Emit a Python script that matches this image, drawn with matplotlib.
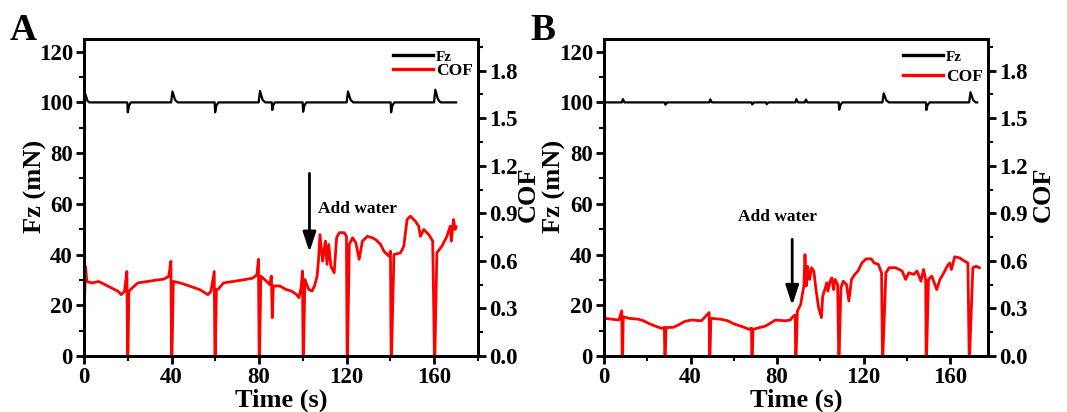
import matplotlib
matplotlib.use('Agg')
import matplotlib.pyplot as plt
from matplotlib.ticker import MultipleLocator

# ---- data (time s, value) ----
# panel A, normal force Fz (mN)
fz_a = [(0, 102.5), (0.4, 103.8), (1.6, 100.6), (2.5, 100), (19.8, 100), (20.0, 96.1),
        (20.6, 98.8), (21.5, 100), (39.8, 100), (40.4, 104.3), (41.6, 101), (42.8, 100),
        (59.7, 100), (59.9, 96.1), (60.5, 98.8), (61.4, 100), (79.8, 100), (80.4, 104.5),
        (81.6, 101), (82.8, 100), (85.8, 100), (86.0, 97), (86.5, 99), (87.2, 100),
        (99.9, 100), (100.1, 96.3), (100.7, 98.8), (101.6, 100), (120.0, 100), (120.6, 104.3),
        (121.8, 101), (123.0, 100), (140.1, 100), (140.3, 96.1), (140.9, 98.8), (141.8, 100),
        (159.9, 100), (160.5, 105), (161.7, 101.2), (162.9, 100), (170, 100)]

# panel A, friction coefficient
cof_a = [(0, 0.230), (0.7, 0.565), (1.3, 0.470), (3.7, 0.461), (6.7, 0.470), (9.6, 0.450),
         (12.6, 0.429), (15.6, 0.408), (17.0, 0.387), (18.5, 0.408), (19.6, 0.533), (19.9, 0),
         (20.1, 0), (20.5, 0.408), (22.0, 0.429), (24.6, 0.461), (29.0, 0.470), (33.5, 0.480),
         (36.4, 0.485), (38.7, 0.502), (39.7, 0.597), (40.0, 0), (40.2, 0), (40.8, 0.470),
         (44.0, 0.461), (48.5, 0.440), (53.0, 0.418), (56.6, 0.387), (58.0, 0.408), (59.5, 0.533),
         (59.8, 0), (60.0, 0), (60.5, 0.418), (61.5, 0.424), (63.7, 0.461), (68.0, 0.470),
         (72.6, 0.480), (77.0, 0.491), (79.0, 0.512), (79.7, 0.610), (80.0, 0), (80.2, 0),
         (80.8, 0.504), (83.3, 0.472), (84.8, 0.451), (85.6, 0.504), (86.0, 0.242), (86.5, 0.442),
         (89.4, 0.442), (92.4, 0.419), (94.7, 0.410), (97.0, 0.389), (98.2, 0.368), (99.2, 0.430),
         (99.8, 0.536), (100.1, 0), (100.3, 0), (100.9, 0.483), (102.7, 0.419), (104.2, 0.410),
         (105.3, 0.442), (106.5, 0.504), (107.1, 0.598), (107.8, 0.766), (109.0, 0.598),
         (110.3, 0.725), (111.0, 0.578), (111.8, 0.704), (112.8, 0.566), (114.3, 0.525),
         (115.4, 0.746), (116.6, 0.778), (118.9, 0.778), (119.9, 0.755), (120.2, 0), (120.4, 0),
         (121.2, 0.704), (122.7, 0.746), (124.2, 0.714), (125.7, 0.610), (127.2, 0.725),
         (129.5, 0.755), (131.7, 0.746), (133.3, 0.734), (135.5, 0.704), (137.0, 0.661),
         (139.3, 0.630), (140.0, 0.661), (140.3, 0), (140.5, 0), (141.6, 0.640), (144.6, 0.651),
         (146.1, 0.693), (147.6, 0.861), (149.1, 0.882), (151.4, 0.850), (152.9, 0.819),
         (153.7, 0.755), (155.2, 0.798), (157.5, 0.766), (159.3, 0.725), (160.1, 0), (160.3, 0),
         (161.2, 0.651), (163.5, 0.693), (165.8, 0.755), (167.3, 0.819), (167.8, 0.725),
         (168.8, 0.861), (169.6, 0.798), (170.0, 0.816)]

# panel B, normal force Fz (mN)
fz_b = [(0, 100), (8.3, 100), (8.7, 101.3), (9.5, 100), (28.1, 100), (28.4, 99.1), (29.2, 100),
        (48.7, 100), (49.1, 101.2), (49.9, 100), (68.2, 100), (68.5, 99.2), (69.3, 100),
        (74.9, 100), (75.2, 99.3), (76.0, 100), (88.5, 100), (88.9, 101.3), (89.7, 100),
        (92.9, 100), (93.3, 101.1), (94.1, 100), (108.5, 100), (108.7, 97.1), (109.3, 99),
        (110.2, 100), (128.7, 100), (129.3, 103.6), (130.5, 100.8), (131.7, 100), (148.8, 100),
        (149.0, 97.0), (149.6, 99), (150.5, 100), (168.8, 100), (169.4, 104.0), (170.6, 101),
        (171.8, 100), (172.5, 100)]

# panel B, friction coefficient
cof_b = [(0, 0.238), (3.8, 0.232), (6.9, 0.227), (8.2, 0.285), (8.4, 0), (8.6, 0), (8.9, 0.248),
         (11.4, 0.238), (16.0, 0.232), (18.3, 0.222), (20.6, 0.206), (23.6, 0.189), (26.7, 0.174),
         (27.9, 0.181), (28.1, 0), (28.3, 0), (28.7, 0.179), (32.0, 0.181), (34.3, 0.195),
         (37.3, 0.218), (40.4, 0.227), (45.0, 0.222), (48.6, 0.274), (48.8, 0), (49.0, 0),
         (49.4, 0.238), (54.0, 0.232), (57.2, 0.222), (60.2, 0.202), (64.8, 0.181), (67.0, 0.168),
         (68.2, 0.176), (68.3, 0), (68.5, 0), (68.9, 0.168), (72.4, 0.181), (74.7, 0.189),
         (79.3, 0.227), (83.8, 0.222), (86.1, 0.227), (87.3, 0.248), (88.4, 0.259), (88.6, 0),
         (88.8, 0), (89.4, 0.283), (90.9, 0.325), (91.7, 0.389), (92.4, 0.442), (92.9, 0.640),
         (93.5, 0.442), (94.1, 0.566), (95.0, 0.483), (95.9, 0.557), (97.0, 0.536), (98.0, 0.419),
         (99.2, 0.304), (100.5, 0.242), (101.1, 0.378), (102.3, 0.430), (103.0, 0.462),
         (103.5, 0.410), (104.5, 0.472), (105.3, 0.493), (106.1, 0.419), (106.8, 0.483),
         (108.0, 0.451), (108.5, 0), (108.7, 0), (109.5, 0.430), (110.6, 0.472), (112.1, 0.451),
         (113.2, 0.347), (114.4, 0.483), (115.9, 0.515), (117.4, 0.536), (119.2, 0.587),
         (121.2, 0.613), (123.5, 0.613), (124.9, 0.587), (126.8, 0.578), (128.3, 0.525),
         (128.7, 0), (128.9, 0), (130.3, 0.525), (131.8, 0.557), (134.8, 0.557), (137.8, 0.536),
         (139.4, 0.483), (140.9, 0.525), (143.2, 0.515), (144.7, 0.536), (146.5, 0.472),
         (147.7, 0.546), (148.7, 0.480), (148.9, 0), (149.1, 0), (150.0, 0.483), (151.5, 0.504),
         (153.8, 0.419), (155.3, 0.483), (157.1, 0.525), (158.6, 0.566), (159.8, 0.587),
         (160.6, 0.546), (162.1, 0.626), (164.4, 0.619), (166.7, 0.598), (168.2, 0.587),
         (168.8, 0), (169.0, 0), (170.5, 0.557), (172.0, 0.566), (173.5, 0.557)]

x_max = {'A': 180, 'B': 177.5}
arrow_a = (103, 72, 41)     # x, from y, to y (Fz units)
arrow_b = (87, 46, 20)
note_a = (107, 58)
note_b = (80, 55)

plt.rcParams['font.family'] = ['Liberation Serif', 'DejaVu Serif']
plt.rcParams['font.weight'] = 'bold'
plt.rcParams['axes.labelweight'] = 'bold'

W, H = 1067, 412
fig = plt.figure(figsize=(W / 100, H / 100), dpi=100)


def style(ax):
    for s in ax.spines.values():
        s.set_linewidth(2)
    ax.tick_params(axis='both', which='major', direction='out', length=6, width=2,
                   labelsize=16.5, pad=2)
    ax.tick_params(axis='both', which='minor', direction='out', length=3.5, width=1.5)


def panel(px, letter, fz, cof, xmax, arrow, note, note_ha, leg_space, lab_px):
    # px = (left, right) of the axes in pixels
    left, right = px
    rect = [left / W, 56 / H, (right - left) / W, 317 / H]
    ax = fig.add_axes(rect)
    ax2 = ax.twinx()
    t, f = zip(*fz)
    l1, = ax.plot(t, f, color='black', lw=1.6)
    t, c = zip(*cof)
    l2, = ax2.plot(t, c, color='#ff0000', lw=2)

    ax.set_xlim(0, xmax)
    ax.set_ylim(0, 125)
    ax2.set_ylim(0, 2.0)
    ax.xaxis.set_major_locator(MultipleLocator(40))
    ax.xaxis.set_minor_locator(MultipleLocator(20))
    ax.yaxis.set_major_locator(MultipleLocator(20))
    ax.yaxis.set_minor_locator(MultipleLocator(10))
    ax2.yaxis.set_major_locator(MultipleLocator(0.3))
    ax2.yaxis.set_minor_locator(MultipleLocator(0.15))
    ax2.yaxis.set_major_formatter(plt.FormatStrFormatter('%.1f'))
    style(ax)
    style(ax2)
    ax.tick_params(top=False)

    wpx = right - left
    ax.set_xlabel('Time (s)', fontsize=19, labelpad=0)
    ax.set_ylabel('Fz (mN)', fontsize=19)
    ax.yaxis.set_label_coords((lab_px[0] - left) / wpx, 0.535)
    ax2.set_ylabel('COF', fontsize=19)
    ax2.yaxis.set_label_coords((lab_px[1] - left) / wpx, 0.51)

    leg = ax2.legend([l1, l2], ['Fz', 'COF'], loc='upper right', bbox_to_anchor=(1.0, 0.985),
                     frameon=False, borderaxespad=0.2, borderpad=0.1, handlelength=2.3,
                     handletextpad=0.15, labelspacing=leg_space, fontsize=12.5)
    leg.get_texts()[0].set_fontsize(11)
    for h in leg.legend_handles:
        h.set_linewidth(2.4)

    x, y0, y1 = arrow
    ax.annotate('', xy=(x, y1), xytext=(x, y0),
                arrowprops=dict(arrowstyle='-|>,head_length=1.0,head_width=0.33',
                                color='black', lw=2, mutation_scale=12, shrinkA=0, shrinkB=0))
    ax.text(note[0], note[1], 'Add water', fontsize=12.5, ha=note_ha, va='center')

    fig.text((left - 74) / W, 1 - 30 / H, letter, fontsize=27, ha='left', va='center')
    return ax


panel((84, 478), 'A', fz_a, cof_a, x_max['A'], arrow_a, note_a, 'left', -0.05, (47, 517))
panel((604, 988), 'B', fz_b, cof_b, x_max['B'], arrow_b, note_b, 'center', 0.25, (566, 1032))

fig.savefig('out.png', dpi=100)
